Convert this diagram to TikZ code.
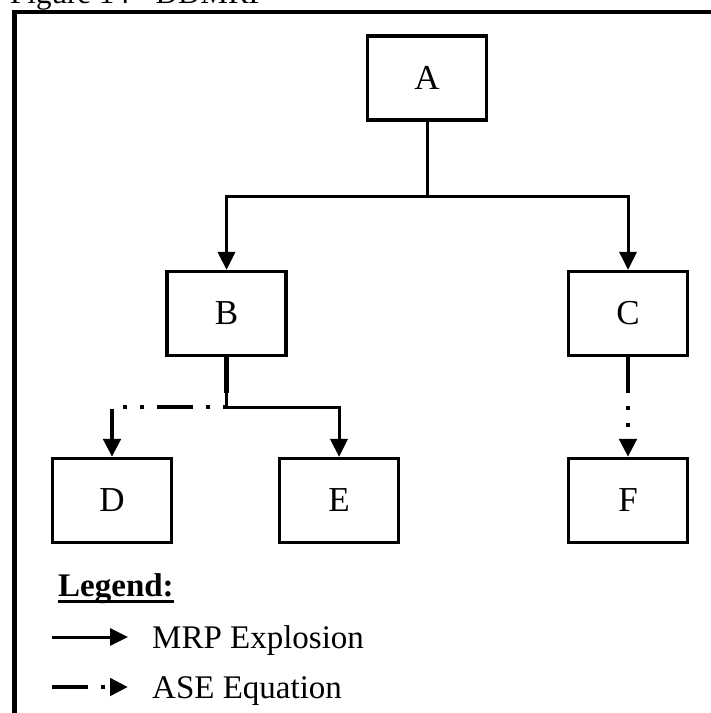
\documentclass[tikz,border=0pt]{standalone}
\usepackage{fontspec}
\setmainfont{Liberation Serif}
\usetikzlibrary{arrows.meta,calc}

\tikzset{
  blk/.style={draw, line width=3.2pt, minimum width=119pt, minimum height=84pt,
    inner sep=0pt, font=\fontsize{35}{35}\selectfont},
  tip/.style={-{Triangle[length=18pt,width=17pt]}},
  mrp/.style={tip, line width=3pt},
  ase/.style={tip, line width=4.6pt,
    dash pattern=on 36pt off 13pt on 4pt off 13pt on 4pt off 13pt},
  lbl/.style={anchor=base west, inner sep=0pt, font=\fontsize{33}{33}\selectfont},
}

\begin{document}
\begin{tikzpicture}[x=1pt, y=-1pt]
  \useasboundingbox (0,0) rectangle (711,713);

  % caption and frame
  \node[anchor=base west, inner sep=0pt, font=\fontsize{31}{31}\selectfont]
    (title) at (10,3) {Figure 14 - DDMRP};
  \draw[line width=4.2pt] (14.5,725) -- (14.5,12) -- (725,12);

  % product structure
  \node[blk] (A) at (427,78)      {A};
  \node[blk] (B) at (226.5,313.5) {B};
  \node[blk] (C) at (628,313.5)   {C};
  \node[blk] (D) at (112,500.5)   {D};
  \node[blk] (E) at (339,500.5)   {E};
  \node[blk] (F) at (628,500.5)   {F};

  \coordinate (jA) at (427,196);
  \coordinate (jB) at (226.5,407);

  \draw[mrp] (A.south) -- (jA) -| (B.north);
  \draw[mrp] (A.south) -- (jA) -| (C.north);
  \draw[mrp] (B.south) -- (jB) -| (E.north);
  \draw[ase] (B.south) -- (jB) -| (D.north);
  \draw[ase] (C.south) -- (F.north);

  % legend
  \node[lbl, font=\fontsize{33}{33}\selectfont\bfseries] (leg) at (58,596) {Legend:};
  \draw[line width=3pt] ($(leg.base west)+(0,5.5)$) -- ($(leg.base east)+(0,5.5)$);

  \coordinate (m1) at (52,637);
  \coordinate (m2) at (128,637);
  \draw[mrp] (m1) -- (m2);
  \node[lbl] (mrptxt) at (152,648) {MRP Explosion};

  \coordinate (s1) at (52,687);
  \coordinate (s2) at (128,687);
  \draw[ase] (s1) -- (s2);
  \node[lbl] (asetxt) at (152,698) {ASE Equation};
\end{tikzpicture}
\end{document}
